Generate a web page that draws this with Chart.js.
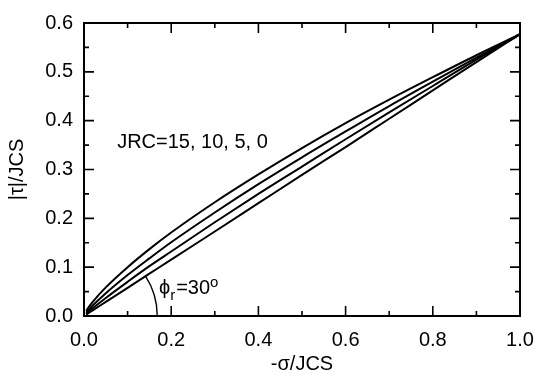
<!DOCTYPE html>
<html lang="en">
<head>
  <meta charset="UTF-8">
  <title>Barton shear strength curves</title>
  <script src="https://cdn.jsdelivr.net/npm/chart.js"></script>
  <style>
    html, body { margin: 0; padding: 0; background: #fff; }
    #wrap { width: 547px; height: 379px; }
  </style>
</head>
<body>
  <div id="wrap"><canvas id="chart" width="547" height="379"></canvas></div>

  <script>
    // values (normal stress / JCS vs shear stress / JCS)
    const sigma = [0.005, 0.01, 0.02, 0.05, 0.1, 0.15, 0.2, 0.3, 0.4, 0.5, 0.6, 0.7, 0.8, 0.9, 1.0];
    const jrc15 = [0.0105, 0.0173, 0.0291, 0.0586, 0.100, 0.137, 0.171, 0.233, 0.290, 0.344, 0.395, 0.443, 0.489, 0.534, 0.577];
    const jrc10 = [0.0066, 0.0119, 0.0214, 0.0466, 0.0839, 0.118, 0.151, 0.212, 0.270, 0.325, 0.378, 0.430, 0.480, 0.529, 0.577];
    const jrc5  = [0.0044, 0.0084, 0.0159, 0.0370, 0.0700, 0.102, 0.132, 0.192, 0.250, 0.306, 0.362, 0.417, 0.471, 0.525, 0.577];
    const jrc0  = [0.0029, 0.0058, 0.0115, 0.0289, 0.0577, 0.0866, 0.1155, 0.173, 0.231, 0.289, 0.346, 0.404, 0.462, 0.520, 0.577];

    const xTicks = [0, 0.2, 0.4, 0.6, 0.8, 1.0];
    const xMinor = [0.1, 0.3, 0.5, 0.7, 0.9];
    const yTicks = [0, 0.1, 0.2, 0.3, 0.4, 0.5, 0.6];
    const yMinor = [0.05, 0.15, 0.25, 0.35, 0.45, 0.55];

    const FONT = 'Liberation Sans, Arial, sans-serif';
    const SIZE = 20;

    function series(ys) {
      return sigma.map((s, i) => ({ x: s, y: ys[i] }));
    }

    function lineSet(label, ys) {
      return {
        label: label,
        data: series(ys),
        borderColor: '#000',
        borderWidth: 2,
        pointRadius: 0,
        fill: false,
        cubicInterpolationMode: 'monotone'
      };
    }

    // frame, inward ticks on all four sides, and the two text notes
    const framePlugin = {
      id: 'frame',
      afterDraw(chart) {
        const ctx = chart.ctx;
        const a = chart.chartArea;
        const xs = chart.scales.x;
        const ys = chart.scales.y;
        ctx.save();
        ctx.strokeStyle = '#000';
        ctx.lineWidth = 2;
        ctx.strokeRect(a.left, a.top, a.right - a.left, a.bottom - a.top);

        ctx.lineWidth = 1.6;
        ctx.beginPath();
        const tick = (vals, len) => {
          vals.forEach(v => {
            const px = xs.getPixelForValue(v);
            ctx.moveTo(px, a.bottom); ctx.lineTo(px, a.bottom - len);
            ctx.moveTo(px, a.top); ctx.lineTo(px, a.top + len);
          });
        };
        const ytick = (vals, len) => {
          vals.forEach(v => {
            const py = ys.getPixelForValue(v);
            ctx.moveTo(a.left, py); ctx.lineTo(a.left + len, py);
            ctx.moveTo(a.right, py); ctx.lineTo(a.right - len, py);
          });
        };
        tick(xTicks, 10);
        tick(xMinor, 5);
        ytick(yTicks, 10);
        ytick(yMinor, 5);
        ctx.stroke();

        // angle arc for phi_r
        const ox = xs.getPixelForValue(0);
        const oy = ys.getPixelForValue(0);
        const r = xs.getPixelForValue(0.168) - ox;
        const ex = xs.getPixelForValue(1) - ox;
        const ey = oy - ys.getPixelForValue(jrc0[jrc0.length - 1]);
        const ang = Math.atan2(ey, ex);
        ctx.lineWidth = 1.4;
        ctx.beginPath();
        ctx.arc(ox, oy, r, -ang, 0);
        ctx.stroke();

        ctx.fillStyle = '#000';
        ctx.textBaseline = 'alphabetic';
        ctx.font = SIZE + 'px ' + FONT;
        ctx.fillText('JRC=15, 10, 5, 0', xs.getPixelForValue(0.076), ys.getPixelForValue(0.345));

        let px = xs.getPixelForValue(0.172);
        const py = ys.getPixelForValue(0.046);
        ctx.fillText('\u03d5', px, py);
        px += ctx.measureText('\u03d5').width;
        ctx.font = '15px ' + FONT;
        ctx.fillText('r', px, py + 6);
        px += ctx.measureText('r').width + 1;
        ctx.font = SIZE + 'px ' + FONT;
        ctx.fillText('=30', px, py);
        px += ctx.measureText('=30').width;
        ctx.font = '15px ' + FONT;
        ctx.fillText('o', px, py - 7);
        ctx.restore();
      }
    };

    new Chart(document.getElementById('chart'), {
      type: 'line',
      data: {
        datasets: [
          lineSet('JRC=15', jrc15),
          lineSet('JRC=10', jrc10),
          lineSet('JRC=5', jrc5),
          lineSet('JRC=0', jrc0)
        ]
      },
      options: {
        responsive: false,
        animation: false,
        layout: { padding: { top: 13, right: 27, left: 0, bottom: 0 } },
        plugins: { legend: { display: false }, tooltip: { enabled: false } },
        scales: {
          x: {
            type: 'linear',
            min: 0,
            max: 1,
            afterBuildTicks(scale) { scale.ticks = xTicks.map(v => ({ value: v })); },
            afterFit(scale) { scale.height = 63; },
            grid: { display: false, drawTicks: false },
            border: { display: false },
            ticks: {
              padding: 12,
              color: '#000',
              font: { family: FONT, size: SIZE },
              callback: v => v.toFixed(1)
            },
            title: {
              display: true,
              text: '-\u03c3/JCS',
              color: '#000',
              font: { family: FONT, size: SIZE },
              padding: { top: 0, bottom: 3 }
            }
          },
          y: {
            type: 'linear',
            min: 0,
            max: 0.6,
            afterBuildTicks(scale) { scale.ticks = yTicks.map(v => ({ value: v })); },
            afterFit(scale) { scale.width = 84; },
            grid: { display: false, drawTicks: false },
            border: { display: false },
            ticks: {
              padding: 11,
              color: '#000',
              font: { family: FONT, size: SIZE },
              callback: v => v.toFixed(1)
            },
            title: {
              display: true,
              text: '|\u03c4|/JCS',
              color: '#000',
              font: { family: FONT, size: SIZE },
              padding: { top: 5, bottom: 0 }
            }
          }
        }
      },
      plugins: [framePlugin]
    });
  </script>
</body>
</html>
